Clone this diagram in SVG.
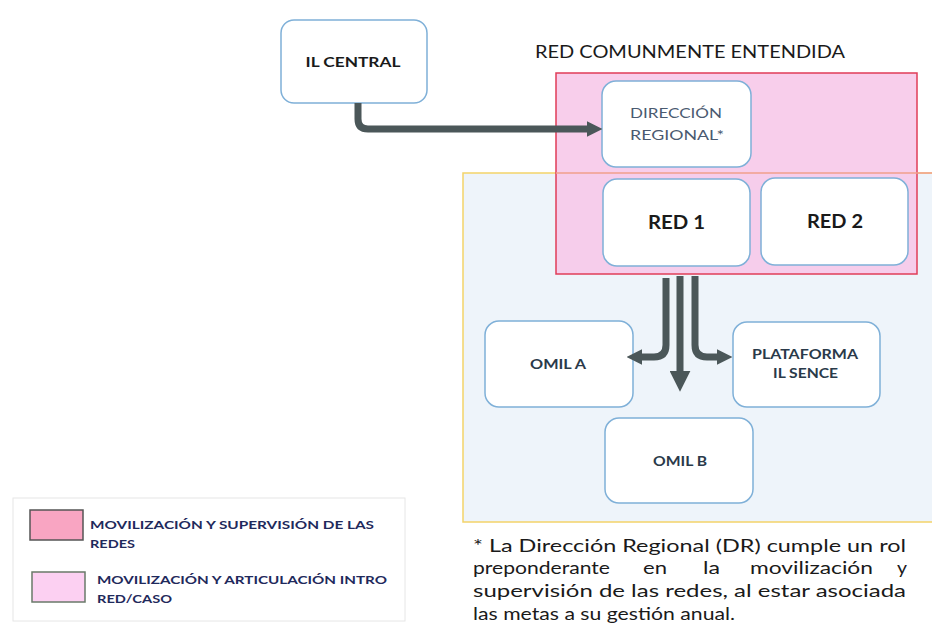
<svg xmlns="http://www.w3.org/2000/svg" width="932" height="623" viewBox="0 0 932 623">
<style>
.node{fill:#ffffff;stroke:#7fb0d8;stroke-width:1.5}
.t{font-family:Lato,"Open Sans","Liberation Sans",sans-serif;font-weight:bold;text-anchor:middle}
.lg{font-family:Lato,"Open Sans","Liberation Sans",sans-serif;font-weight:bold;font-size:12px;fill:#1f2a5c}
.fn{font-family:Lato,"Open Sans","Liberation Sans",sans-serif;font-size:18px;fill:#1a1a1a}
.conn{fill:none;stroke:#4b5759;stroke-width:7}
</style>
<defs>
<marker id="ah" viewBox="0 0 10 10" refX="2" refY="5" markerWidth="2.2" markerHeight="2.2" orient="auto" markerUnits="strokeWidth"><path d="M0,0 L10,5 L0,10 z" fill="#4b5759"/></marker>
<marker id="ahL" viewBox="0 0 10 10" refX="2" refY="5" markerWidth="3" markerHeight="3" orient="auto" markerUnits="strokeWidth"><path d="M0,0 L10,5 L0,10 z" fill="#4b5759"/></marker>
</defs>
<rect width="932" height="623" fill="#ffffff"/>

<g id="regions">
<rect x="463" y="173" width="480" height="349" fill="#eef4fa" stroke="#f3d36a" stroke-width="1.5"/>
<rect x="556" y="73" width="361" height="201" fill="#f7c6e8" fill-opacity="0.85" stroke="#e03c58" stroke-width="1.5"/>
<line x1="556" y1="173" x2="932" y2="173" stroke="#f0a090" stroke-width="1.5"/>
<text x="690" y="58" class="t" style="font-weight:normal;font-size:17px;fill:#1a1a1a" textLength="310" lengthAdjust="spacingAndGlyphs">RED COMUNMENTE ENTENDIDA</text>
</g>

<g id="il-central">
<rect x="281" y="20" width="146" height="83" rx="13" class="node"/>
<text x="353" y="67" class="t" style="font-size:13px;fill:#1a1a1a" textLength="95" lengthAdjust="spacingAndGlyphs">IL CENTRAL</text>
</g>

<g id="direccion-regional">
<rect x="602" y="81" width="149" height="86" rx="14" class="node"/>
<text x="676" y="118" class="t" style="font-weight:normal;font-size:14px;fill:#4a5a70" textLength="92" lengthAdjust="spacingAndGlyphs">DIRECCIÓN</text>
<text x="677" y="140" class="t" style="font-weight:normal;font-size:14px;fill:#4a5a70" textLength="94" lengthAdjust="spacingAndGlyphs">REGIONAL*</text>
</g>

<g id="red1">
<rect x="603" y="179" width="147" height="87" rx="14" class="node"/>
<text x="676.5" y="229" class="t" style="font-size:18px;fill:#1a1a1a" textLength="57" lengthAdjust="spacingAndGlyphs">RED 1</text>
</g>

<g id="red2">
<rect x="761" y="178" width="147" height="87" rx="14" class="node"/>
<text x="835" y="228" class="t" style="font-size:18px;fill:#1a1a1a" textLength="56" lengthAdjust="spacingAndGlyphs">RED 2</text>
</g>

<g id="omil-a">
<rect x="485" y="321" width="148" height="86" rx="14" class="node"/>
<text x="558" y="369" class="t" style="font-size:13px;fill:#2a3a4a" textLength="56" lengthAdjust="spacingAndGlyphs">OMIL A</text>
</g>

<g id="plataforma">
<rect x="733" y="322" width="147" height="85" rx="14" class="node"/>
<text x="805" y="359" class="t" style="font-size:13px;fill:#2a3a4a" textLength="106" lengthAdjust="spacingAndGlyphs">PLATAFORMA</text>
<text x="805.5" y="378" class="t" style="font-size:13px;fill:#2a3a4a" textLength="65" lengthAdjust="spacingAndGlyphs">IL SENCE</text>
</g>

<g id="omil-b">
<rect x="605" y="418" width="148" height="85" rx="14" class="node"/>
<text x="680" y="466" class="t" style="font-size:13px;fill:#2a3a4a" textLength="54" lengthAdjust="spacingAndGlyphs">OMIL B</text>
</g>

<g id="connectors">
<path class="conn" d="M358,103 V119 Q358,129 368,129 H590" marker-end="url(#ah)"/>
<path class="conn" d="M666,278 V345 Q666,357 654,357 H639" marker-end="url(#ah)"/>
<path class="conn" d="M680,276 V375" marker-end="url(#ahL)"/>
<path class="conn" d="M695,276 V345 Q695,357 707,357 H720" marker-end="url(#ah)"/>
</g>

<g id="legend">
<rect x="13" y="498" width="392" height="123" fill="#ffffff" stroke="#e6e6e6" stroke-width="1"/>
<rect x="30" y="510" width="53" height="30" fill="#f9a5c2" stroke="#555555" stroke-width="1.5"/>
<text x="90" y="529" class="lg" textLength="284" lengthAdjust="spacingAndGlyphs">MOVILIZACIÓN  Y SUPERVISIÓN DE LAS</text>
<text x="90" y="548" class="lg" textLength="45" lengthAdjust="spacingAndGlyphs">REDES</text>
<rect x="32" y="572" width="53" height="30" fill="#fcd0f2" stroke="#6a7a6a" stroke-width="1.5"/>
<text x="97" y="584" class="lg" textLength="290" lengthAdjust="spacingAndGlyphs">MOVILIZACIÓN  Y ARTICULACIÓN  INTRO</text>
<text x="97" y="603" class="lg" textLength="75" lengthAdjust="spacingAndGlyphs">RED/CASO</text>
</g>

<g id="footnote">
<text x="473" y="552" class="fn" textLength="433" lengthAdjust="spacingAndGlyphs">* La Dirección Regional (DR) cumple un rol</text>
<text x="473" y="574" class="fn" textLength="137" lengthAdjust="spacingAndGlyphs">preponderante</text>
<text x="643" y="574" class="fn" textLength="24" lengthAdjust="spacingAndGlyphs">en</text>
<text x="703" y="574" class="fn" textLength="17" lengthAdjust="spacingAndGlyphs">la</text>
<text x="750" y="574" class="fn" textLength="123" lengthAdjust="spacingAndGlyphs">movilización</text>
<text x="897" y="574" class="fn" textLength="10" lengthAdjust="spacingAndGlyphs">y</text>
<text x="473" y="597" class="fn" textLength="433" lengthAdjust="spacingAndGlyphs">supervisión de las redes, al estar asociada</text>
<text x="473" y="620" class="fn" textLength="262" lengthAdjust="spacingAndGlyphs">las metas a su gestión anual.</text>
</g>
</svg>
